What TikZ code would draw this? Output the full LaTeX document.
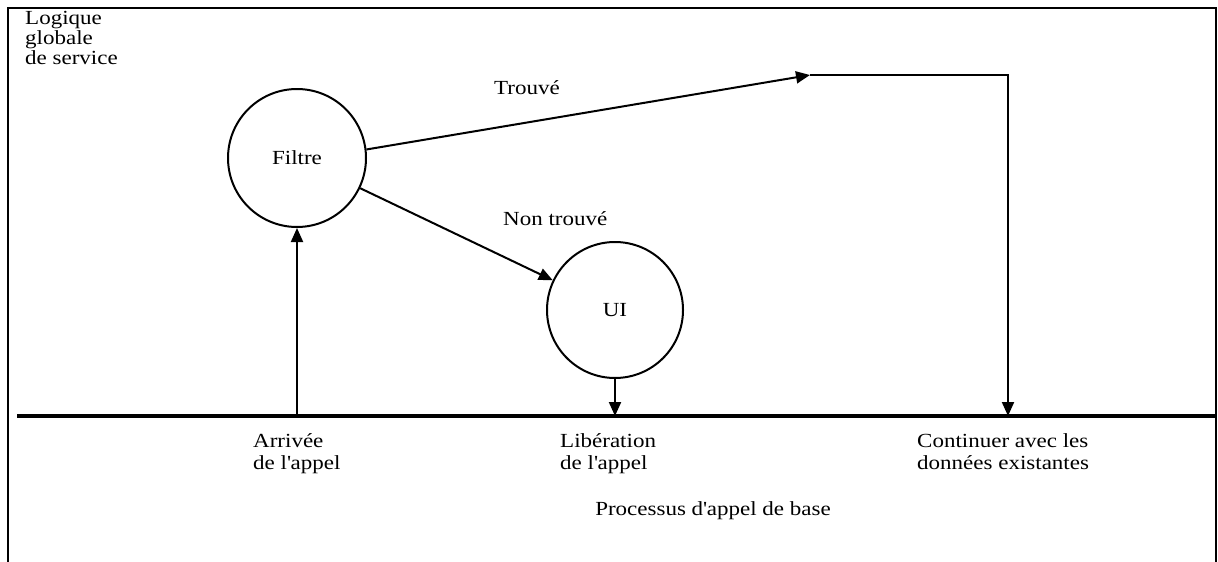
\documentclass[tikz,border=0pt]{standalone}
\usepackage{fontspec}
\setmainfont[FakeStretch=1.15]{Liberation Serif}
\usetikzlibrary{arrows.meta}
\begin{document}
\begin{tikzpicture}[x=1pt,y=-1pt,
  every node/.style={font=\fontsize{20}{22}\selectfont},
  proc/.style={draw,circle,line width=2pt,inner sep=0pt},
  lbl/.style={inner sep=0pt,anchor=base west,align=left},
  flow/.style={line width=2pt,-{Triangle[length=14pt,width=12pt]}}]
  \useasboundingbox (0,0) rectangle (1218,562);

  % outer frame, open at the bottom
  \draw[line width=2pt] (8,562) -- (8,8) -- (1216,8) -- (1216,562);
  % base call process line
  \draw[line width=4pt] (17,416) -- (1216,416);

  % multi-line labels are placed by the baseline of their last line
  \node[lbl,font=\fontsize{20}{20}\selectfont] (title) at (25,64) {Logique\\globale\\de service};

  \node[proc,minimum size=138pt] (filtre) at (297,158) {Filtre};
  \node[proc,minimum size=136pt] (ui) at (615,310) {UI};

  \coordinate (arr) at (297,416);
  \coordinate (lib) at (615,416);
  \coordinate (tip) at (810,75);
  \coordinate (corner) at (1008,75);
  \coordinate (cont) at (1008,416);

  \draw[flow] (filtre.7) -- (tip);
  \draw[flow] (tip) -- (corner) -- (cont);
  \draw[flow] (filtre) -- (ui);
  \draw[flow] (arr) -- (filtre.south);
  \draw[flow] (ui.south) -- (lib);

  \node[lbl] (trouve) at (494,94) {Trouvé};
  \node[lbl] (nontrouve) at (503,225) {Non trouvé};

  \node[lbl] (arrivee) at (253,469) {Arrivée\\de l\textquotesingle appel};
  \node[lbl] (liberation) at (560,469) {Libération\\de l\textquotesingle appel};
  \node[lbl] (continuer) at (917,469) {Continuer avec les\\données existantes};
  \node[inner sep=0pt,anchor=base] (processus) at (713,515) {Processus d\textquotesingle appel de base};
\end{tikzpicture}
\end{document}
